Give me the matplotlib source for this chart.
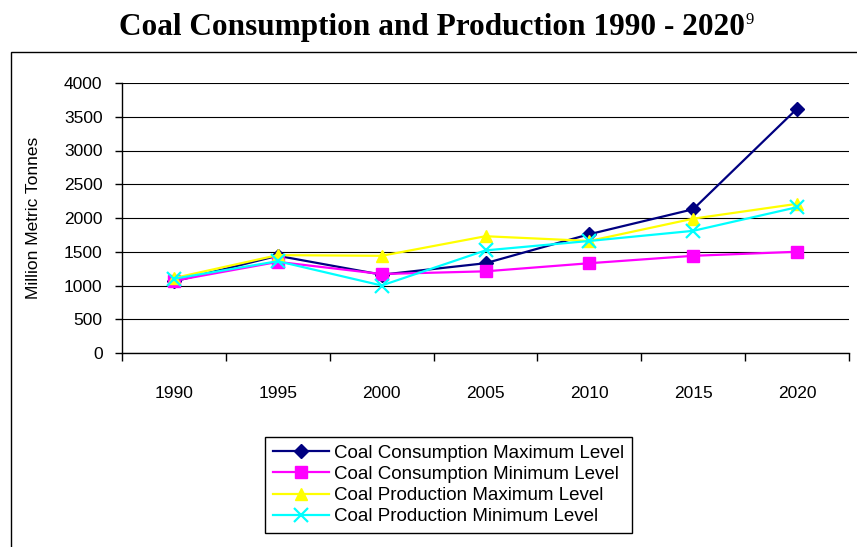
import matplotlib
matplotlib.use("Agg")
import matplotlib.pyplot as plt
from matplotlib.patches import Rectangle
from matplotlib.ticker import FixedLocator, MultipleLocator

years = ["1990", "1995", "2000", "2005", "2010", "2015", "2020"]
cons_max = [1060, 1440, 1160, 1330, 1760, 2130, 3620]
cons_min = [1070, 1350, 1170, 1210, 1330, 1440, 1500]
prod_max = [1110, 1450, 1440, 1730, 1660, 1990, 2210]
prod_min = [1100, 1360, 1000, 1520, 1660, 1810, 2160]
labels = ["Coal Consumption Maximum Level", "Coal Consumption Minimum Level",
          "Coal Production Maximum Level", "Coal Production Minimum Level"]

W, H = 857, 547
fig = plt.figure(figsize=(W / 100, H / 100), dpi=100)
sans = "Liberation Sans"
serif = "Liberation Serif"

# outer border
fig.patches.append(Rectangle((11 / W, -0.1), 1.2, 1.1 - 52 / H, transform=fig.transFigure,
                             fill=False, edgecolor="black", linewidth=1.0))

ax = fig.add_axes([122 / W, 1 - 353 / H, (849 - 122) / W, (353 - 83) / H])
x = list(range(len(years)))
series = [cons_max, cons_min, prod_max, prod_min]
colors = ["#000080", "#FF00FF", "#FFFF00", "#00FFFF"]
markers = ["D", "s", "^", "x"]
msizes = [7, 8, 9, 10]
handles = []
for vals, c, m, ms, lab in zip(series, colors, markers, msizes, labels):
    h, = ax.plot(x, vals, color=c, marker=m, markersize=ms, linewidth=1.6,
                 markeredgewidth=1.6 if m == "x" else 1.0, label=lab, clip_on=False, zorder=3)
    handles.append(h)

ax.set_xlim(-0.5, len(years) - 0.5)
ax.set_ylim(0, 4000)
ax.yaxis.set_major_locator(MultipleLocator(500))
ax.grid(axis="y", color="black", linewidth=0.8)
ax.set_axisbelow(True)
for s in ["top", "right"]:
    ax.spines[s].set_visible(False)
ax.spines["left"].set_linewidth(1.0)
ax.spines["bottom"].set_linewidth(1.0)

ax.set_xticks(x)
ax.set_xticklabels(years, fontfamily=sans, fontsize=12.5)
ax.xaxis.set_minor_locator(FixedLocator([i - 0.5 for i in range(len(years) + 1)]))
ax.tick_params(axis="x", which="major", length=0, pad=24)
ax.tick_params(axis="x", which="minor", length=6, width=1.0, direction="out")
ax.tick_params(axis="y", which="major", length=5, width=1.0, direction="out", pad=9)
for t in ax.get_yticklabels():
    t.set_fontfamily(sans)
    t.set_fontsize(12.5)

fig.text(34 / W, 1 - 218 / H, "Million Metric Tonnes", rotation=90, ha="center", va="center",
         fontfamily=sans, fontsize=12.5)

leg = fig.legend(handles=handles, loc="upper left", bbox_to_anchor=(265 / W, 1 - 437 / H),
                 bbox_transform=fig.transFigure, frameon=True, fancybox=False,
                 edgecolor="black", framealpha=1, borderaxespad=0, borderpad=0.4,
                 handlelength=3.0, handletextpad=0.3, labelspacing=0.22,
                 prop={"family": sans, "size": 13.5})
leg.get_frame().set_linewidth(1.0)

title = fig.text(432 / W, 1 - 28 / H, "Coal Consumption and Production 1990 - 2020",
                 ha="center", va="center", fontfamily=serif, fontweight="bold", fontsize=22.5)
fig.canvas.draw()
bb = title.get_window_extent()
fig.text(bb.x1 / W + 0.001, (bb.y1 + 1) / H, "9", ha="left", va="top",
         fontfamily=serif, fontsize=12)

fig.savefig("out.png", dpi=100)
